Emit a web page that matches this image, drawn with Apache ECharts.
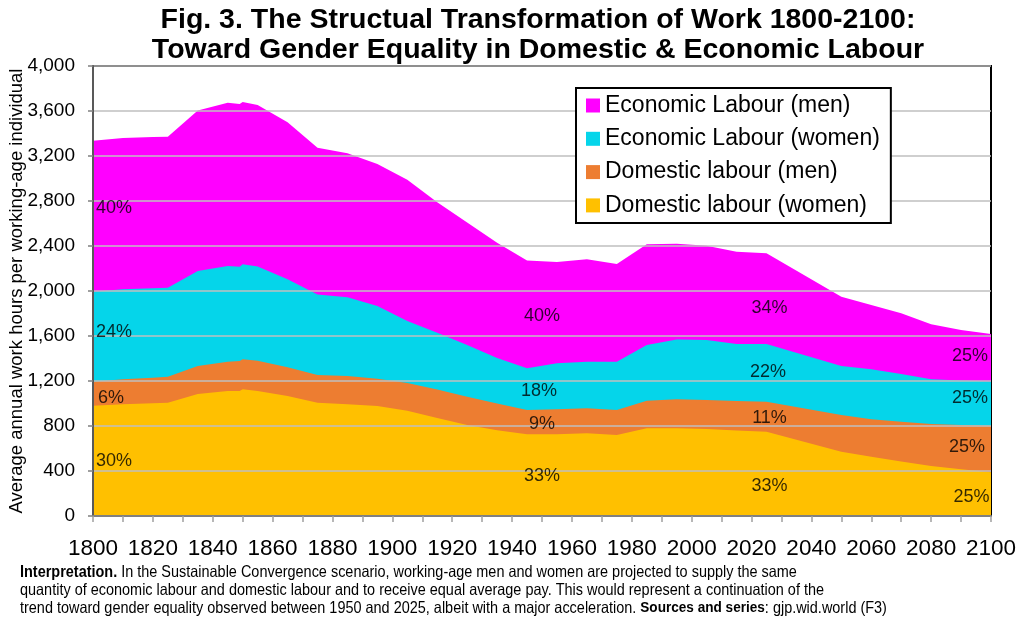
<!DOCTYPE html>
<html>
<head>
<meta charset="utf-8">
<script src="https://cdn.jsdelivr.net/npm/echarts@6/dist/echarts.min.js"></script>
<style>
  html, body { margin: 0; padding: 0; background: #fff; }
  #chart { width: 1024px; height: 632px; }
</style>
</head>
<body>
<div id="chart"></div>
<script>
// ---- Data ----
const years = [1800, 1810, 1820, 1825, 1835, 1845, 1849, 1850, 1855, 1865, 1875, 1885, 1895, 1905, 1915, 1925, 1935, 1945, 1955, 1965, 1975, 1985, 1995, 2005, 2015, 2025, 2050, 2060, 2070, 2080, 2090, 2100];
const domesticWomen = [980, 993, 1002, 1007, 1084, 1111, 1111, 1126, 1111, 1067, 1007, 993, 978, 935, 871, 808, 762, 726, 726, 735, 720, 779, 779, 773, 760, 749, 572, 527, 485, 444, 415, 388];
const domesticMen   = [214, 222, 228, 231, 249, 261, 267, 267, 269, 255, 246, 251, 242, 247, 254, 253, 239, 216, 222, 222, 222, 246, 258, 258, 262, 267, 326, 333, 353, 374, 395, 415];
const economicWomen = [800, 800, 794, 790, 845, 850, 838, 844, 838, 783, 717, 701, 647, 551, 503, 458, 403, 371, 409, 415, 430, 495, 533, 533, 507, 513, 435, 444, 424, 397, 395, 392];
const economicMen   = [1342, 1345, 1344, 1344, 1427, 1452, 1446, 1443, 1435, 1395, 1304, 1279, 1262, 1257, 1162, 1091, 1026, 959, 901, 910, 868, 895, 850, 838, 821, 806, 617, 572, 540, 489, 448, 423];
const seriesNames = ['Domestic labour (women)', 'Domestic labour (men)', 'Economic Labour (women)', 'Economic Labour (men)'];
const legendOrder = ['Economic Labour (men)', 'Economic Labour (women)', 'Domestic labour (men)', 'Domestic labour (women)'];
// share annotations: [year, hours, text]
const shareLabels = [
  [1807, 2740, '40%'], [1807, 1636, '24%'], [1806, 1049, '6%'], [1807, 489, '30%'],
  [1950, 1778, '40%'], [1949, 1111, '18%'], [1950, 818, '9%'], [1950, 356, '33%'],
  [2026, 1849, '34%'], [2025.5, 1280, '22%'], [2026, 871, '11%'], [2026, 267, '33%'],
  [2093, 1422, '25%'], [2093, 1049, '25%'], [2092, 613, '25%'], [2093.5, 169, '25%']
];
const titleLines = ['Fig. 3. The Structual Transformation of Work 1800-2100:', 'Toward Gender Equality in Domestic & Economic Labour'];
const yAxisTitle = 'Average annual work hours per working-age individual';
const noteText = '{b|Interpretation.} In the Sustainable Convergence scenario, working-age men and women are projected to supply the same\nquantity of economic labour and domestic labour and to receive equal average pay. This would represent a continuation of the\ntrend toward gender equality observed between 1950 and 2025, albeit with a major acceleration. {s|Sources and series}: gjp.wid.world (F3)';

// ---- Chart ----
const colors = ['#FFC000', '#ED7D31', '#05D5EA', '#FF00FF'];
const valueSets = [domesticWomen, domesticMen, economicWomen, economicMen];
const chart = echarts.init(document.getElementById('chart'), null, { renderer: 'canvas' });

// cumulative totals (stacked layers), each filled down to zero; lower layers drawn on top
const running = years.map(() => 0);
const areaSeries = valueSets.map((vals, i) => {
  const tops = vals.map((v, k) => (running[k] += v));
  return {
    name: seriesNames[i],
    type: 'line',
    data: years.map((y, k) => [y, tops[k]]),
    showSymbol: false,
    symbol: 'none',
    lineStyle: { width: 0, color: colors[i] },
    itemStyle: { color: colors[i] },
    areaStyle: { color: colors[i], opacity: 1, origin: 'start' },
    z: 2 + (valueSets.length - i),
    silent: true
  };
});

const FONT = "'Liberation Sans', Arial, sans-serif";

const option = {
  animation: false,
  backgroundColor: '#fff',
  color: colors,
  grid: {
    left: 93, right: 33, top: 66, bottom: 116,
    outerBoundsMode: 'none',
    containLabel: false,
    show: true, borderColor: '#000', borderWidth: 2, backgroundColor: '#fff'
  },
  legend: {
    orient: 'vertical',
    left: 576, top: 88,
    data: legendOrder,
    backgroundColor: '#fff',
    borderColor: '#000',
    borderWidth: 2,
    borderRadius: 0,
    padding: [6, 11, 6, 10],
    itemGap: 10.3,
    itemWidth: 14, itemHeight: 14,
    icon: 'rect',
    textStyle: { fontFamily: FONT, fontSize: 23, color: '#000' },
    z: 10
  },
  xAxis: {
    type: 'value',
    min: 1800, max: 2100, interval: 10,
    axisLine: { show: true, lineStyle: { color: '#808080', width: 2 } },
    axisTick: { show: true, length: 6, lineStyle: { color: '#A0A0A0', width: 1.5 } },
    axisLabel: {
      fontFamily: FONT, fontSize: 22.5, color: '#000', margin: 21,
      formatter: v => (v % 20 === 0 ? String(v) : '')
    },
    splitLine: { show: false },
    z: 8
  },
  yAxis: {
    type: 'value',
    min: 0, max: 4000, interval: 400,
    name: yAxisTitle,
    nameLocation: 'middle',
    nameGap: 67,
    nameMoveOverlap: false,
    nameTextStyle: { fontFamily: FONT, fontSize: 18.5, color: '#000' },
    axisLine: { show: true, lineStyle: { color: '#595959', width: 2 } },
    axisTick: { show: true, length: 5, lineStyle: { color: '#808080', width: 1.5 } },
    axisLabel: {
      fontFamily: FONT, fontSize: 19, color: '#000', margin: 18,
      formatter: v => v.toLocaleString('en-US')
    },
    splitLine: { show: true, lineStyle: { color: '#BFBFBF', width: 1.5 } },
    z: 8
  },
  series: areaSeries.concat([{
    name: 'shares',
    type: 'scatter',
    data: shareLabels.map(d => ({ value: [d[0], d[1]], label: { formatter: d[2] } })),
    symbolSize: 1,
    itemStyle: { color: 'rgba(0,0,0,0)' },
    label: { show: true, position: 'inside', fontFamily: FONT, fontSize: 18, color: '#000' },
    silent: true,
    z: 9
  }]),
  graphic: [
    {
      type: 'text', x: 538, y: 20, z: 20,
      style: { text: titleLines[0], font: "bold 28.5px " + FONT, fill: '#000', align: 'center', verticalAlign: 'middle' }
    },
    {
      type: 'text', x: 538, y: 50, z: 20,
      style: { text: titleLines[1], font: "bold 28.5px " + FONT, fill: '#000', align: 'center', verticalAlign: 'middle' }
    },
    {
      type: 'text', x: 20, y: 563, z: 20, scaleX: 0.876,
      style: {
        text: noteText,
        font: "16.5px " + FONT,
        fill: '#000', lineHeight: 18,
        rich: {
          b: { font: "bold 16.5px " + FONT, fill: '#000', lineHeight: 18 },
          s: { font: "bold 15.5px " + FONT, fill: '#000', lineHeight: 18 }
        }
      }
    }
  ]
};
chart.setOption(option);
</script>
</body>
</html>
